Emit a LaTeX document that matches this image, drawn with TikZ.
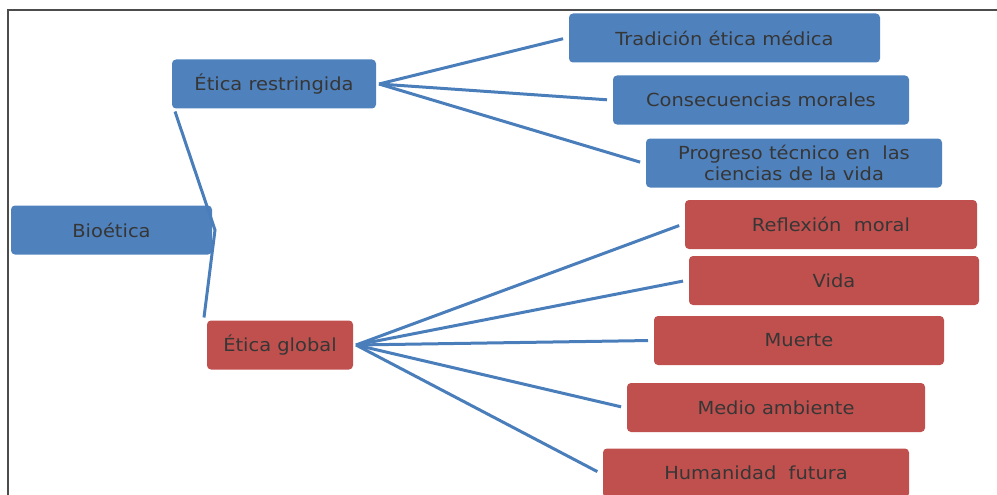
\documentclass[tikz,border=0pt]{standalone}
\usepackage{fontspec}
\setmainfont[FakeStretch=1.08]{DejaVu Sans}
\usepackage{xcolor}
\usetikzlibrary{positioning}
\definecolor{boxblue}{HTML}{4F81BD}
\definecolor{boxred}{HTML}{C0504D}
\definecolor{linkblue}{HTML}{4A7EBB}
\definecolor{txtgray}{HTML}{363636}
\begin{document}
\begin{tikzpicture}[x=1pt, y=-1pt,
		tbox/.style 2 args={
			rectangle,
			rounded corners=4pt,
			fill=#1,
			minimum width=#2,
			minimum height=49pt,
			inner sep=0pt,
			outer sep=3pt,
			align=center,
			text=txtgray,
			font=\fontsize{18}{21}\selectfont},
		link/.style={draw=linkblue, line width=3pt, shorten >=3pt}
		]
		\useasboundingbox (0,0) rectangle (997,495);
		\draw[line width=2pt, draw=black!70] (997,10) -- (8,10) -- (8,497);
		\node[tbox={boxblue}{201pt}] (bio) at (111.5,230) {Bioética};
		\node[tbox={boxblue}{204pt}] (er) at (274,84) {Ética restringida};
		\node[tbox={boxred}{146pt}] (eg) at (280,345) {Ética global};
		\node[tbox={boxblue}{311pt}] (t1) at (724.5,38) {Tradición ética médica};
		\node[tbox={boxblue}{296pt}] (t2) at (761,100) {Consecuencias morales};
		\node[tbox={boxblue}{296pt}] (t3) at (794,163) {Progreso técnico en~ las\\ciencias de la vida};
		\node[tbox={boxred}{292pt}] (g1) at (831,224.5) {Reflexión~ moral};
		\node[tbox={boxred}{290pt}] (g2) at (834,280.5) {Vida};
		\node[tbox={boxred}{290pt}] (g3) at (799,340.5) {Muerte};
		\node[tbox={boxred}{298pt}] (g4) at (776,407.5) {Medio ambiente};
		\node[tbox={boxred}{306pt}] (g5) at (756,473) {Humanidad~ futura};
		\draw[link, shorten >=0pt] ([xshift=6pt]er.south west) -- (bio.east) -- (eg.north west);
		\foreach \t in {t1,t2,t3}
		\draw[link] (er.east) -- (\t.west);
		\foreach \g in {g1,g2,g3,g4,g5}
		\draw[link] (eg.east) -- (\g.west);
		\end{tikzpicture}
\end{document}
